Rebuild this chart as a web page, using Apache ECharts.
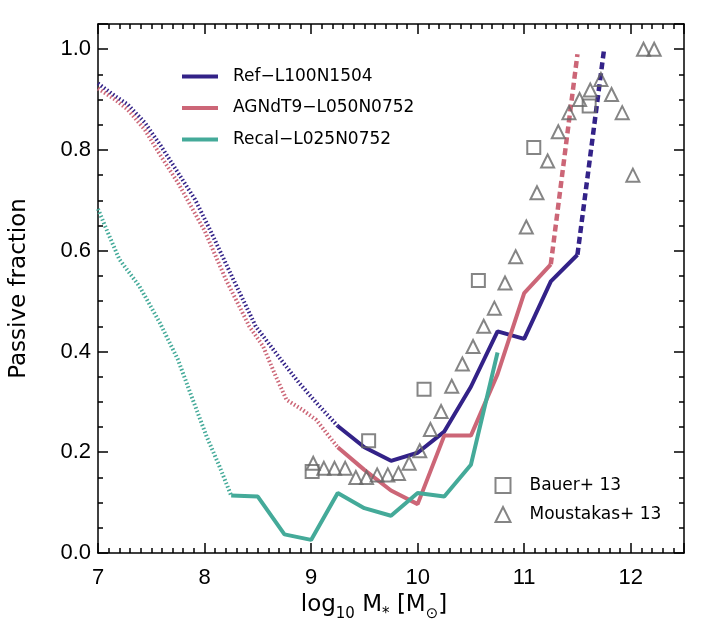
<!DOCTYPE html>
<html>
<head>
<meta charset="utf-8">
<script src="https://cdn.jsdelivr.net/npm/echarts@6/dist/echarts.min.js"></script>
<style>
html, body { margin: 0; padding: 0; background: #fff; }
#chart { width: 728px; height: 629px; }
</style>
</head>
<body>
<div id="chart"></div>
<script>
// values: [log10 M*, passive fraction]
var refDotted = [[7.0,0.932],[7.16,0.907],[7.28,0.89],[7.44,0.854],[7.59,0.808],[7.75,0.755],[7.91,0.702],[8.05,0.642],[8.27,0.543],[8.48,0.45],[8.73,0.38],[8.89,0.337],[9.05,0.298],[9.25,0.252]];
var refSolid = [[9.25,0.252],[9.5,0.21],[9.75,0.183],[10.0,0.199],[10.25,0.241],[10.5,0.33],[10.75,0.44],[11.0,0.425],[11.25,0.539],[11.5,0.592]];
var refDashed = [[11.5,0.592],[11.75,1.0]];

var agnDotted = [[7.0,0.922],[7.16,0.90],[7.28,0.88],[7.44,0.84],[7.59,0.788],[7.75,0.735],[8.0,0.64],[8.2,0.543],[8.42,0.45],[8.55,0.41],[8.67,0.35],[8.77,0.304],[8.92,0.284],[9.05,0.264],[9.17,0.231],[9.25,0.21]];
var agnSolid = [[9.25,0.21],[9.5,0.165],[9.75,0.124],[10.0,0.097],[10.25,0.233],[10.5,0.233],[10.75,0.355],[11.0,0.516],[11.25,0.573]];
var agnDashed = [[11.25,0.573],[11.5,0.99]];

var recalDotted = [[7.0,0.683],[7.08,0.642],[7.2,0.583],[7.39,0.529],[7.58,0.457],[7.75,0.384],[7.89,0.304],[8.02,0.231],[8.14,0.172],[8.25,0.114]];
var recalSolid = [[8.25,0.114],[8.5,0.112],[8.75,0.037],[9.0,0.026],[9.25,0.119],[9.5,0.089],[9.75,0.074],[10.0,0.119],[10.25,0.112],[10.5,0.175],[10.75,0.398]];

var bauer = [[9.01,0.162],[9.54,0.223],[10.06,0.325],[10.57,0.541],[11.09,0.805],[11.61,0.887]];
var moustakas = [[9.02,0.178],[9.12,0.168],[9.22,0.168],[9.32,0.168],[9.42,0.15],[9.52,0.15],[9.62,0.155],[9.72,0.155],[9.82,0.158],[9.92,0.178],
  [10.02,0.203],[10.12,0.245],[10.22,0.281],[10.32,0.331],[10.42,0.375],[10.52,0.41],[10.62,0.45],[10.72,0.486],[10.82,0.536],[10.92,0.588],
  [11.02,0.647],[11.12,0.715],[11.22,0.778],[11.32,0.836],[11.42,0.874],[11.52,0.90],[11.62,0.919],[11.72,0.94],[11.82,0.91],[11.92,0.874],
  [12.02,0.75],[12.12,1.0],[12.22,1.0]];

var simNames = ['Ref\u2212L100N1504', 'AGNdT9\u2212L050N0752', 'Recal\u2212L025N0752'];
var obsNames = ['Bauer+ 13', 'Moustakas+ 13'];
var colors = ['#332288', '#CC6677', '#44AA99'];

var tickFont = 'Liberation Sans';
var textFont = 'DejaVu Sans';

function lineSeries(name, data, color, style, width) {
  return {
    name: name, type: 'line', data: data,
    xAxisIndex: 0, yAxisIndex: 0,
    symbol: 'none', color: color,
    lineStyle: { color: color, width: width, type: style, cap: 'butt' },
    z: 2
  };
}

function xAx(grid, pos, interval, tickLen, extra) {
  var a = {
    gridIndex: grid, type: 'value', position: pos, min: 7, max: 12.5, interval: interval,
    axisLine: { show: grid === 0, onZero: false, lineStyle: { color: '#000', width: 1.5 } },
    axisTick: { inside: true, length: tickLen, lineStyle: { color: '#000', width: 1.5 } },
    axisLabel: { show: false },
    splitLine: { show: false }
  };
  return Object.assign(a, extra || {});
}

function yAx(grid, pos, interval, tickLen, extra) {
  var a = {
    gridIndex: grid, type: 'value', position: pos, min: 0, max: 1.05, interval: interval,
    axisLine: { show: grid === 0, onZero: false, lineStyle: { color: '#000', width: 1.5 } },
    axisTick: { inside: true, length: tickLen, lineStyle: { color: '#000', width: 1.5 } },
    axisLabel: { show: false },
    splitLine: { show: false }
  };
  return Object.assign(a, extra || {});
}

var chart = echarts.init(document.getElementById('chart'));
var gridBox = { left: 98, right: 44, top: 24, bottom: 76, outerBoundsMode: 'none' };

var option = {
  animation: false,
  backgroundColor: '#fff',
  grid: [Object.assign({}, gridBox), Object.assign({}, gridBox)],
  xAxis: [
    xAx(0, 'bottom', 1, 10, {
      axisLabel: {
        show: true, margin: 14, color: '#000', fontSize: 22, fontFamily: tickFont,
        formatter: function (v) { return v > 12.01 ? '' : String(v); }
      },
      name: '{m|log}{s|10}{m| M}{s|*}{m| [M}{s|\u2299}{m|]}',
      nameLocation: 'middle', nameGap: 38,
      nameTextStyle: {
        padding: [0, 34, 0, 0],
        rich: {
          m: { fontSize: 23, fontFamily: textFont, color: '#000', lineHeight: 26, verticalAlign: 'top' },
          s: { fontSize: 15, fontFamily: textFont, color: '#000', lineHeight: 16, verticalAlign: 'top', padding: [13, 0, 0, 0] }
        }
      }
    }),
    xAx(0, 'top', 1, 10),
    xAx(1, 'bottom', 0.1, 5),
    xAx(1, 'top', 0.1, 5)
  ],
  yAxis: [
    yAx(0, 'left', 0.2, 10, {
      axisLabel: {
        show: true, margin: 7, color: '#000', fontSize: 22, fontFamily: tickFont,
        formatter: function (v) { return v > 1.01 ? '' : v.toFixed(1); }
      },
      name: 'Passive fraction', nameLocation: 'middle', nameGap: 67,
      nameTextStyle: { fontSize: 23, fontFamily: textFont, color: '#000' }
    }),
    yAx(0, 'right', 0.2, 10),
    yAx(1, 'left', 0.05, 5),
    yAx(1, 'right', 0.05, 5)
  ],
  legend: [
    {
      data: simNames, orient: 'vertical', left: 182, top: 68, padding: 0,
      icon: 'rect', itemWidth: 36, itemHeight: 4, itemGap: 14.5,
      selectedMode: false,
      textStyle: { fontSize: 17, fontFamily: textFont, color: '#000', padding: [0, 0, 0, 10] }
    },
    {
      data: obsNames, orient: 'vertical', left: 494.5, top: 477, padding: 0,
      itemWidth: 15, itemHeight: 15, itemGap: 12,
      selectedMode: false,
      itemStyle: { color: 'rgba(0,0,0,0)', borderColor: '#666', borderWidth: 2 },
      textStyle: { fontSize: 17, fontFamily: textFont, color: '#000', padding: [0, 0, 0, 14] }
    }
  ],
  series: [
    lineSeries('ref-dotted', refDotted, colors[0], [1.5, 2.2], 4),
    lineSeries('agn-dotted', agnDotted, colors[1], [1.5, 2.2], 4),
    lineSeries('recal-dotted', recalDotted, colors[2], [1.5, 2.2], 4),
    lineSeries(simNames[0], refSolid, colors[0], 'solid', 4),
    lineSeries(simNames[1], agnSolid, colors[1], 'solid', 4),
    lineSeries(simNames[2], recalSolid, colors[2], 'solid', 4),
    lineSeries('ref-dashed', refDashed, colors[0], [7, 4], 4.5),
    lineSeries('agn-dashed', agnDashed, colors[1], [7, 4], 4.5),
    {
      name: obsNames[0], type: 'scatter', data: bauer, symbol: 'rect', symbolSize: 13,
      itemStyle: { color: 'rgba(0,0,0,0)', borderColor: '#666', borderWidth: 2 }, z: 3
    },
    {
      name: obsNames[1], type: 'scatter', data: moustakas, symbol: 'triangle', symbolSize: 13,
      itemStyle: { color: 'rgba(0,0,0,0)', borderColor: '#666', borderWidth: 2 }, z: 3
    }
  ]
};

chart.setOption(option);
</script>
</body>
</html>
